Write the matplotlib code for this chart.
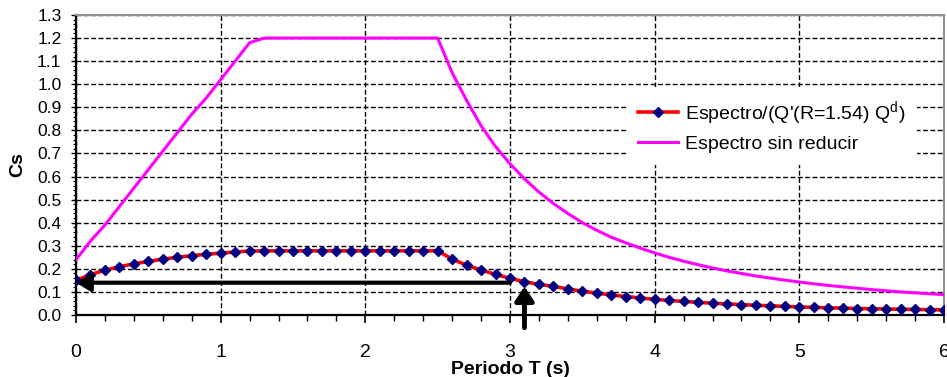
import numpy as np
import matplotlib
matplotlib.use("Agg")
import matplotlib.pyplot as plt
from matplotlib.ticker import MultipleLocator, FormatStrFormatter

plt.rcParams['font.family'] = ['Liberation Sans', 'DejaVu Sans']

periodo = [0.0, 0.1, 0.2, 0.3, 0.4, 0.5, 0.6, 0.7, 0.8, 0.9,
           1.0, 1.1, 1.2, 1.3, 1.4, 1.5, 1.6, 1.7, 1.8, 1.9,
           2.0, 2.1, 2.2, 2.3, 2.4, 2.5, 2.6, 2.7, 2.8, 2.9,
           3.0, 3.1, 3.2, 3.3, 3.4, 3.5, 3.6, 3.7, 3.8, 3.9,
           4.0, 4.1, 4.2, 4.3, 4.4, 4.5, 4.6, 4.7, 4.8, 4.9,
           5.0, 5.1, 5.2, 5.3, 5.4, 5.5, 5.6, 5.7, 5.8, 5.9, 6.0]

espectro_red = [0.150, 0.175, 0.194, 0.209, 0.222, 0.232, 0.242, 0.250, 0.257, 0.263,
                0.268, 0.273, 0.277, 0.278, 0.278, 0.278, 0.278, 0.278, 0.278, 0.278,
                0.278, 0.278, 0.278, 0.278, 0.278, 0.278, 0.242, 0.216, 0.195, 0.176,
                0.159, 0.144, 0.133, 0.124, 0.113, 0.103, 0.095, 0.087, 0.080, 0.074,
                0.068, 0.063, 0.059, 0.055, 0.051, 0.048, 0.045, 0.042, 0.040, 0.037,
                0.035, 0.033, 0.031, 0.030, 0.028, 0.027, 0.026, 0.025, 0.024, 0.023, 0.022]

espectro_sin = [0.24, 0.32, 0.39, 0.47, 0.55, 0.63, 0.71, 0.79, 0.87, 0.94,
                1.02, 1.10, 1.18, 1.20, 1.20, 1.20, 1.20, 1.20, 1.20, 1.20,
                1.20, 1.20, 1.20, 1.20, 1.20, 1.20, 1.05, 0.93, 0.82, 0.73,
                0.655, 0.59, 0.533, 0.483, 0.44, 0.40, 0.367, 0.337, 0.313, 0.29,
                0.269, 0.25, 0.233, 0.218, 0.204, 0.191, 0.18, 0.169, 0.16, 0.151,
                0.143, 0.135, 0.128, 0.122, 0.116, 0.11, 0.105, 0.10, 0.096, 0.092, 0.088]

# lectura del espectro de diseno
T_lectura = 3.1
Cs_lectura = 0.14

fig = plt.figure(figsize=(9.47, 3.77), dpi=100)
ax = fig.add_axes([76/947, 1 - 315/377, 868/947, 300/377])

ax.plot(periodo, espectro_red, color='red', lw=2.6, marker='D', ms=5.5,
        mfc='#000080', mec='#000080', label="Espectro/(Q'(R=1.54) Q$\\mathregular{^d}$)", zorder=3)
ax.plot(periodo, espectro_sin, color='#FF00FF', lw=2.2, label="Espectro sin reducir", zorder=3)

ax.set_xlim(0, 6)
ax.set_ylim(0, 1.3)
ax.xaxis.set_major_locator(MultipleLocator(1))
ax.xaxis.set_minor_locator(MultipleLocator(0.2))
ax.yaxis.set_major_locator(MultipleLocator(0.1))
ax.yaxis.set_minor_locator(MultipleLocator(0.02))
ax.yaxis.set_major_formatter(FormatStrFormatter('%.1f'))
ax.xaxis.set_major_formatter(FormatStrFormatter('%d'))

ax.grid(True, which='major', color='black', lw=1.0, linestyle=(0, (3.5, 1.8)))

ax.tick_params(axis='y', which='major', direction='out', length=3.5, width=1, labelsize=12.5, pad=7)
ax.tick_params(axis='y', which='minor', direction='out', length=2, width=0.8)
ax.tick_params(axis='x', which='major', direction='out', length=6, width=1.2, labelsize=14, pad=15)
ax.tick_params(axis='x', which='minor', direction='out', length=4, width=1)

for s in ['left', 'bottom']:
    ax.spines[s].set_color('black')
    ax.spines[s].set_linewidth(1.6)
for s in ['top', 'right']:
    ax.spines[s].set_color('#909090')
    ax.spines[s].set_linewidth(1.5)

ax.set_xlabel("Periodo T (s)", fontsize=14, fontweight='bold', labelpad=0)
ax.set_ylabel("Cs", fontsize=14, fontweight='bold', labelpad=8)

# flechas de lectura
ax.annotate("", xy=(0, Cs_lectura), xytext=(3.0, Cs_lectura),
            arrowprops=dict(arrowstyle="-|>,head_length=8.5,head_width=5.2", mutation_scale=1,
                            color='black', lw=3, shrinkA=0, shrinkB=0), zorder=4)
ax.annotate("", xy=(T_lectura, 0.124), xytext=(T_lectura, -0.055),
            arrowprops=dict(arrowstyle="-|>,head_length=8.5,head_width=5.6", mutation_scale=1,
                            color='black', lw=3.5, shrinkA=0, shrinkB=0),
            annotation_clip=False, zorder=4)

leg = ax.legend(loc='center', bbox_to_anchor=(772/947, 1 - 126/377), bbox_transform=fig.transFigure,
                fontsize=14, frameon=True, facecolor='white', edgecolor='none', framealpha=1,
                handlelength=2.06, handletextpad=0.36, labelspacing=0.45, borderpad=0.6)

plt.savefig('out.png', dpi=100)
